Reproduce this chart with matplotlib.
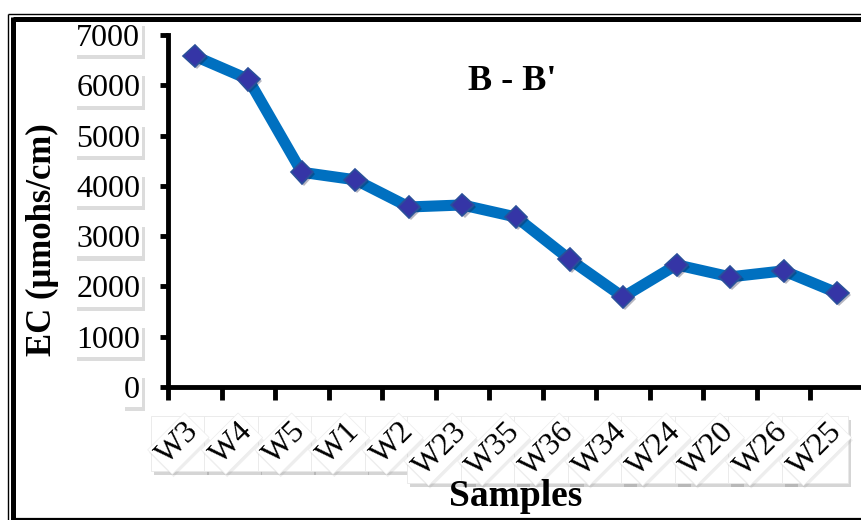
import matplotlib
matplotlib.use("Agg")
import matplotlib.pyplot as plt
import matplotlib.patheffects as pe
from matplotlib.lines import Line2D
from matplotlib.patches import Rectangle

samples = ["W3", "W4", "W5", "W1", "W2", "W23", "W35", "W36", "W34", "W24", "W20", "W26", "W25"]
ec = [6580, 6120, 4270, 4120, 3580, 3620, 3380, 2540, 1790, 2430, 2190, 2310, 1870]
yticks = [0, 1000, 2000, 3000, 4000, 5000, 6000, 7000]

W, H = 862, 520
fig = plt.figure(figsize=(W / 100, H / 100), dpi=100)
fig.patch.set_facecolor("white")

L, R, B, T = 168, 864, 387, 35
ax = fig.add_axes([L / W, 1 - B / H, (R - L) / W, (B - T) / H])

x = list(range(len(samples)))
ax.plot(x, ec, color="#0070C0", lw=8, solid_joinstyle="miter", zorder=2)
ax.plot(x, ec, ls="none", marker="D", ms=11.5, mfc="#3535A6", mec="#2A4F9A", mew=1.2,
        zorder=3, path_effects=[pe.SimplePatchShadow(offset=(1.5, -1.5), alpha=0.3), pe.Normal()])

ax.set_xlim(-0.5, len(samples) - 0.5)
ax.set_ylim(0, 7000)
for s in ["top", "right"]:
    ax.spines[s].set_visible(False)
for s in ["left", "bottom"]:
    ax.spines[s].set_linewidth(3.5)
    ax.spines[s].set_capstyle("projecting")

serif = "Liberation Serif"
ax.set_yticks(yticks)
ax.set_yticklabels([str(v) for v in yticks], fontfamily=serif, fontsize=23)
ax.tick_params(axis="y", direction="out", length=6, width=3.5, pad=14)

ax.set_xticks([i - 0.5 for i in range(len(samples) + 1)], minor=False)
ax.set_xticklabels([])
ax.set_xticks(x, minor=True)
ax.set_xticklabels(samples, minor=True, fontfamily=serif, fontsize=23, rotation=45,
                   ha="right", va="center", rotation_mode="anchor")
ax.tick_params(axis="x", which="major", direction="out", length=9, width=3.5)
ax.tick_params(axis="x", which="minor", length=0, pad=29)

shadow = [pe.SimplePatchShadow(offset=(2, -3), alpha=0.25, shadow_rgbFace="#777777"), pe.Normal()]
for lab in ax.get_yticklabels():
    lab.set_bbox(dict(facecolor="white", edgecolor="none", pad=1.5))
    lab.get_bbox_patch().set_path_effects(shadow)
for lab in ax.get_xticklabels(minor=True):
    lab.set_bbox(dict(facecolor="white", edgecolor="#ececec", lw=0.5, pad=2))
    lab.get_bbox_patch().set_path_effects(
        [pe.SimplePatchShadow(offset=(1, -2), alpha=0.12, shadow_rgbFace="#777777"), pe.Normal()])

# axis-aligned white boxes behind the rotated category labels
fig.canvas.draw()
renderer = fig.canvas.get_renderer()
for lab in ax.get_xticklabels(minor=True):
    ext = lab.get_window_extent(renderer)
    x0, y0 = ext.x0 - 1, ext.y0 - 1
    rect = Rectangle((x0 / W, y0 / H), (ext.width + 2) / W, (ext.height + 2) / H,
                     transform=fig.transFigure, facecolor="white", edgecolor="#e8e8e8", lw=0.6,
                     zorder=-1,
                     path_effects=[pe.SimplePatchShadow(offset=(2, -3), alpha=0.3,
                                                        shadow_rgbFace="#777777"), pe.Normal()])
    fig.add_artist(rect)

fig.text(42 / W, 1 - 240 / H, "EC (\u03bcmohs/cm)", rotation=90, ha="center", va="center",
         fontfamily=serif, fontweight="bold", fontsize=25)
fig.text(516 / W, 1 - 497 / H, "Samples", ha="center", va="center",
         fontfamily=serif, fontweight="bold", fontsize=27, zorder=5)
fig.text(512 / W, 1 - 81 / H, "B - B'", ha="center", va="center",
         fontfamily=serif, fontweight="bold", fontsize=26)

# outer frame
def fl(x0, y0, x1, y1, lw):
    fig.add_artist(Line2D([x0 / W, x1 / W], [1 - y0 / H, 1 - y1 / H], color="black", lw=lw,
                          transform=fig.transFigure, solid_capstyle="butt"))

fl(8.5, 13.5, W, 13.5, 1.0)
fl(8.5, 13.5, 8.5, H, 1.0)
fl(13.5, 19, W, 19, 3.6)
fl(13.5, 17, 13.5, H, 3.6)
fl(13.5, 519, W, 519, 1.6)

fig.savefig("out.png", dpi=100, facecolor="white")
